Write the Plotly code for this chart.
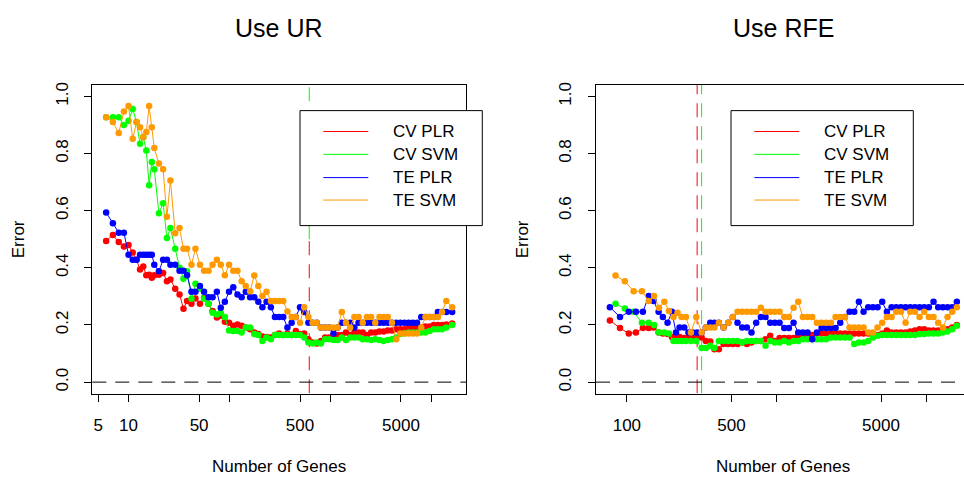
import plotly.graph_objects as go

# ---------------- data ----------------
genes_ur = [6, 7, 8, 9, 10, 11, 12, 13, 14, 15, 16, 17, 18, 20, 22, 24, 26, 29, 32, 35,
            38, 42, 46, 51, 56, 62, 68, 75, 82, 90, 99, 109, 120, 132, 145, 160, 176, 193, 212, 233,
            257, 282, 310, 341, 375, 413, 454, 500, 550, 605, 666, 732, 805, 886, 974, 1072, 1179, 1297, 1427, 1569,
            1726, 1899, 2089, 2298, 2528, 2780, 3058, 3364, 3700, 4070, 4477, 4925, 5418, 5960, 6556, 7211, 7932, 8726, 9599, 10559,
            11615, 12776, 14054, 16063]

ur_cv_plr = [0.494, 0.515, 0.49, 0.475, 0.48, 0.454, 0.428, 0.394, 0.405, 0.374,
             0.376, 0.365, 0.374, 0.376, 0.382, 0.353, 0.359, 0.327, 0.307, 0.257,
             0.284, 0.274, 0.293, 0.274, 0.295, 0.274, 0.249, 0.226, 0.232, 0.211,
             0.208, 0.197, 0.202, 0.197, 0.191, 0.185, 0.174, 0.168, 0.16, 0.158,
             0.156, 0.165, 0.17, 0.165, 0.17, 0.165, 0.179, 0.168, 0.17, 0.15,
             0.139, 0.135, 0.144, 0.156, 0.156, 0.165, 0.165, 0.165, 0.174, 0.165,
             0.174, 0.174, 0.174, 0.165, 0.174, 0.174, 0.177, 0.177, 0.181, 0.181,
             0.185, 0.185, 0.185, 0.191, 0.191, 0.191, 0.191, 0.195, 0.195, 0.2,
             0.2, 0.2, 0.202, 0.205]

ur_cv_svm = [0.927, 0.927, 0.927, 0.9, 0.915, 0.956, 0.91, 0.834, 0.857, 0.811,
             0.689, 0.77, 0.745, 0.591, 0.626, 0.504, 0.539, 0.467, 0.4, 0.362,
             0.388, 0.292, 0.344, 0.327, 0.292, 0.274, 0.243, 0.237, 0.243, 0.228,
             0.181, 0.179, 0.179, 0.174, 0.191, 0.191, 0.168, 0.165, 0.144, 0.156,
             0.15, 0.165, 0.165, 0.165, 0.165, 0.165, 0.165, 0.165, 0.156, 0.139,
             0.135, 0.139, 0.135, 0.15, 0.15, 0.147, 0.147, 0.156, 0.147, 0.156,
             0.156, 0.156, 0.15, 0.15, 0.147, 0.15, 0.147, 0.144, 0.147, 0.15,
             0.156, 0.168, 0.17, 0.174, 0.174, 0.174, 0.174, 0.174, 0.179, 0.185,
             0.185, 0.185, 0.191, 0.2]

ur_te_plr = [0.594, 0.556, 0.523, 0.523, 0.446, 0.428, 0.428, 0.446, 0.446, 0.446,
             0.446, 0.446, 0.411, 0.388, 0.428, 0.428, 0.411, 0.411, 0.39, 0.39,
             0.374, 0.316, 0.316, 0.336, 0.316, 0.297, 0.297, 0.316, 0.26, 0.281,
             0.316, 0.332, 0.307, 0.297, 0.316, 0.297, 0.297, 0.281, 0.262, 0.281,
             0.262, 0.228, 0.228, 0.228, 0.191, 0.208, 0.228, 0.262, 0.245, 0.208,
             0.208, 0.208, 0.191, 0.191, 0.191, 0.17, 0.191, 0.208, 0.208, 0.208,
             0.191, 0.208, 0.208, 0.208, 0.208, 0.208, 0.208, 0.208, 0.208, 0.208,
             0.208, 0.208, 0.208, 0.208, 0.208, 0.208, 0.228, 0.228, 0.228, 0.228,
             0.245, 0.245, 0.245, 0.245]

ur_te_svm = [0.927, 0.91, 0.872, 0.947, 0.966, 0.852, 0.91, 0.892, 0.857, 0.875,
             0.966, 0.892, 0.819, 0.765, 0.745, 0.579, 0.706, 0.521, 0.539, 0.467,
             0.467, 0.411, 0.467, 0.411, 0.39, 0.39, 0.411, 0.428, 0.411, 0.374,
             0.411, 0.39, 0.39, 0.353, 0.336, 0.318, 0.373, 0.336, 0.301, 0.316,
             0.284, 0.284, 0.284, 0.284, 0.247, 0.228, 0.228, 0.208, 0.262, 0.228,
             0.208, 0.208, 0.191, 0.191, 0.191, 0.191, 0.191, 0.245, 0.208, 0.191,
             0.228, 0.228, 0.208, 0.228, 0.228, 0.208, 0.228, 0.228, 0.228, 0.208,
             0.15, 0.17, 0.17, 0.17, 0.17, 0.17, 0.191, 0.228, 0.228, 0.228,
             0.228, 0.245, 0.284, 0.262]

genes_rfe_plr = [77, 90, 103, 115, 128, 140, 151, 163, 174, 187,
                 200, 213, 225, 242, 258, 276, 295, 316, 337, 361,
                 385, 412, 443, 476, 511, 549, 590, 634, 681, 732,
                 787, 845, 908, 976, 1049, 1127, 1211, 1301, 1398, 1502,
                 1614, 1734, 1863, 2002, 2151, 2311, 2483, 2668, 2867, 3080,
                 3310, 3556, 3821, 4106, 4411, 4740, 5093, 5472, 5880, 6318,
                 6788, 7294, 7837, 8421, 9045, 9716, 10440, 11218, 12054, 12951,
                 13916, 14953, 16063]

genes_rfe_svm = [84, 97, 111, 126, 140, 152, 164, 178, 191, 205,
                 218, 232, 248, 268, 291, 316, 337, 361, 385, 412,
                 443, 476, 511, 549, 590, 634, 681, 732, 787, 845,
                 908, 976, 1049, 1127, 1211, 1301, 1398, 1502, 1614, 1734,
                 1863, 2002, 2151, 2311, 2483, 2668, 2867, 3080, 3310, 3556,
                 3821, 4106, 4411, 4740, 5093, 5472, 5880, 6318, 6788, 7294,
                 7837, 8421, 9045, 9716, 10440, 11218, 12054, 12951, 13916, 14953,
                 16063]

rfe_cv_plr = [0.216, 0.189, 0.17, 0.174, 0.189, 0.189, 0.191, 0.174, 0.17, 0.168,
              0.158, 0.156, 0.158, 0.154, 0.156, 0.154, 0.156, 0.156, 0.144, 0.142,
              0.115, 0.115, 0.133, 0.133, 0.133, 0.133, 0.139, 0.133, 0.139, 0.144,
              0.144, 0.15, 0.162, 0.144, 0.154, 0.154, 0.154, 0.154, 0.162, 0.162,
              0.165, 0.165, 0.17, 0.17, 0.17, 0.17, 0.17, 0.17, 0.17, 0.17,
              0.17, 0.17, 0.17, 0.17, 0.165, 0.165, 0.17, 0.181, 0.174, 0.174,
              0.174, 0.174, 0.177, 0.181, 0.185, 0.185, 0.181, 0.181, 0.181, 0.185,
              0.185, 0.191, 0.2]

rfe_te_plr = [0.262, 0.228, 0.246, 0.246, 0.246, 0.301, 0.284, 0.246, 0.228, 0.208,
              0.246, 0.174, 0.191, 0.191, 0.174, 0.174, 0.174, 0.174, 0.191, 0.208,
              0.208, 0.208, 0.191, 0.208, 0.228, 0.208, 0.191, 0.191, 0.174, 0.208,
              0.228, 0.228, 0.208, 0.208, 0.208, 0.189, 0.189, 0.208, 0.174, 0.174,
              0.174, 0.15, 0.174, 0.189, 0.189, 0.189, 0.189, 0.208, 0.228, 0.246,
              0.246, 0.281, 0.246, 0.262, 0.262, 0.262, 0.281, 0.246, 0.262, 0.262,
              0.262, 0.262, 0.262, 0.262, 0.262, 0.262, 0.262, 0.281, 0.262, 0.262,
              0.262, 0.262, 0.281]

rfe_cv_svm = [0.274, 0.258, 0.246, 0.208, 0.208, 0.2, 0.174, 0.174, 0.17, 0.144,
              0.144, 0.144, 0.144, 0.144, 0.144, 0.119, 0.119, 0.127, 0.119, 0.144,
              0.144, 0.144, 0.144, 0.144, 0.139, 0.144, 0.144, 0.144, 0.144, 0.127,
              0.144, 0.139, 0.139, 0.144, 0.139, 0.144, 0.144, 0.15, 0.15, 0.15,
              0.15, 0.15, 0.15, 0.156, 0.156, 0.156, 0.156, 0.156, 0.133, 0.139,
              0.139, 0.144, 0.156, 0.162, 0.165, 0.165, 0.165, 0.165, 0.165, 0.165,
              0.165, 0.165, 0.168, 0.168, 0.17, 0.17, 0.17, 0.174, 0.177, 0.185,
              0.197]

rfe_te_svm = [0.373, 0.353, 0.318, 0.318, 0.284, 0.301, 0.26, 0.281, 0.249, 0.228,
              0.243, 0.228, 0.228, 0.174, 0.228, 0.174, 0.191, 0.191, 0.191, 0.208,
              0.191, 0.208, 0.228, 0.246, 0.246, 0.246, 0.246, 0.246, 0.26, 0.246,
              0.246, 0.246, 0.246, 0.228, 0.228, 0.26, 0.281, 0.228, 0.228, 0.228,
              0.208, 0.208, 0.208, 0.208, 0.228, 0.228, 0.228, 0.191, 0.191, 0.191,
              0.191, 0.174, 0.174, 0.191, 0.208, 0.228, 0.228, 0.246, 0.246, 0.208,
              0.246, 0.246, 0.228, 0.246, 0.228, 0.228, 0.208, 0.191, 0.228, 0.246,
              0.262]

best_ur_plr = 617
best_ur_svm = 617
best_rfe_plr = 295
best_rfe_svm = 316
# in the UR panel the two marker lines coincide: red is visible below this level, green above
ur_line_split = 0.5

series_names = ["CV PLR", "CV SVM", "TE PLR", "TE SVM"]
panel_titles = ["Use UR", "Use RFE"]
x_title = "Number of Genes"
y_title = "Error"
x_tickvals_ur = [5, 10, 50, 100, 500, 1000, 5000, 10000]
x_ticktext_ur = ["5", "10", "50", "", "500", "", "5000", ""]
x_tickvals_rfe = [100, 500, 1000, 5000, 10000]
x_ticktext_rfe = ["100", "500", "", "5000", ""]
y_tickvals = [0, 0.2, 0.4, 0.6, 0.8, 1.0]
y_ticktext = ["0.0", "0.2", "0.4", "0.6", "0.8", "1.0"]

# ---------------- styles ----------------
W, H = 964, 480
FONT = "Liberation Sans, Arial, Helvetica, sans-serif"
COLORS = ["#FF0000", "#00FF00", "#0000FF", "#FF9900"]
DASH = "14px,9px"


def px(x):
    return x / W


def py(y):
    return 1 - y / H


fig = go.Figure()

panels = [
    dict(xa="x", ya="y", genes=[genes_ur, genes_ur, genes_ur, genes_ur],
         ys=[ur_cv_plr, ur_cv_svm, ur_te_plr, ur_te_svm],
         best=[best_ur_plr, best_ur_svm], red_top=ur_line_split, green_bottom=ur_line_split),
    dict(xa="x2", ya="y2", genes=[genes_rfe_plr, genes_rfe_svm, genes_rfe_plr, genes_rfe_svm],
         ys=[rfe_cv_plr, rfe_cv_svm, rfe_te_plr, rfe_te_svm],
         best=[best_rfe_plr, best_rfe_svm], red_top=1.2, green_bottom=-0.2),
]

for p in panels:
    # vertical dashed lines at selected gene counts
    fig.add_trace(go.Scatter(x=[p["best"][1], p["best"][1]], y=[p["green_bottom"], 1.2], mode="lines",
                             line=dict(color=COLORS[1], width=1, dash=DASH),
                             xaxis=p["xa"], yaxis=p["ya"], showlegend=False, hoverinfo="skip"))
    fig.add_trace(go.Scatter(x=[p["best"][0], p["best"][0]], y=[-0.2, p["red_top"]], mode="lines",
                             line=dict(color=COLORS[0], width=1, dash=DASH),
                             xaxis=p["xa"], yaxis=p["ya"], showlegend=False, hoverinfo="skip"))
    for i in range(4):
        fig.add_trace(go.Scatter(x=p["genes"][i], y=p["ys"][i], mode="lines+markers",
                                 name=series_names[i],
                                 line=dict(color=COLORS[i], width=1),
                                 marker=dict(color=COLORS[i], size=6.5),
                                 xaxis=p["xa"], yaxis=p["ya"], showlegend=False))

ydom = [py(393), py(82.5)]
axis_common = dict(showline=True, linecolor="black", linewidth=1, ticks="outside",
                   ticklen=7, tickwidth=1, tickcolor="black", showgrid=False,
                   zeroline=False, tickfont=dict(family=FONT, size=17, color="black"))

fig.update_layout(
    width=W, height=H, margin=dict(l=0, r=0, t=0, b=0), autosize=False,
    paper_bgcolor="white", plot_bgcolor="white", showlegend=False,
    font=dict(family=FONT, color="black"),
    xaxis=dict(domain=[px(92.3), px(466)], type="log", range=[0.6411, 4.3429],
               tickvals=x_tickvals_ur, ticktext=x_ticktext_ur, anchor="y",
               mirror=True, ticklabelstandoff=9, **axis_common),
    yaxis=dict(domain=ydom, range=[-0.04, 1.04], tickvals=y_tickvals, ticktext=y_ticktext,
               tickangle=-90, anchor="x", mirror=True, ticklabelstandoff=10, **axis_common),
    xaxis2=dict(domain=[px(596), 1.0], type="log", range=[1.7937, 4.2536],
                tickvals=x_tickvals_rfe, ticktext=x_ticktext_rfe, anchor="y2",
                mirror=True, ticklabelstandoff=9, **axis_common),
    yaxis2=dict(domain=ydom, range=[-0.04, 1.04], tickvals=y_tickvals, ticktext=y_ticktext,
                tickangle=-90, anchor="x2", mirror=False, ticklabelstandoff=10, **axis_common),
)

shapes = []
annotations = []
# horizontal dashed reference line at zero
for xr, yr in [("x domain", "y"), ("x2 domain", "y2")]:
    shapes.append(dict(type="line", xref=xr, yref=yr, x0=0, x1=1, y0=0, y1=0,
                       line=dict(color="black", width=1, dash=DASH), layer="above"))

centers = [(92.3 + 466) / 2, (596 + 970.7) / 2]
yaxis_title_x = [18, 522]
legend_left = [300, 731]
row_y = [129.3, 152.3, 175.7, 198.3]
for k in range(2):
    annotations.append(dict(text=panel_titles[k], x=px(centers[k]), y=py(25), xref="paper",
                            yref="paper", showarrow=False, xanchor="center", yanchor="middle",
                            font=dict(family=FONT, size=25, color="black")))
    annotations.append(dict(text=x_title, x=px(centers[k]), y=py(466), xref="paper",
                            yref="paper", showarrow=False, xanchor="center", yanchor="middle",
                            font=dict(family=FONT, size=17, color="black")))
    annotations.append(dict(text=y_title, x=px(yaxis_title_x[k]), y=py(237.75), xref="paper",
                            yref="paper", showarrow=False, xanchor="center", yanchor="middle",
                            textangle=-90, font=dict(family=FONT, size=17, color="black")))
    L = legend_left[k]
    shapes.append(dict(type="rect", xref="paper", yref="paper", x0=px(L), x1=px(L + 182.3),
                       y0=py(224), y1=py(108.3), fillcolor="white",
                       line=dict(color="black", width=1), layer="above"))
    for i in range(4):
        shapes.append(dict(type="line", xref="paper", yref="paper", x0=px(L + 23.3),
                           x1=px(L + 68.3), y0=py(row_y[i]), y1=py(row_y[i]),
                           line=dict(color=COLORS[i], width=1), layer="above"))
        annotations.append(dict(text=series_names[i], x=px(L + 91), y=py(row_y[i]),
                                xref="paper", yref="paper", showarrow=False, xanchor="left",
                                yanchor="middle", font=dict(family=FONT, size=17, color="black")))

fig.update_layout(shapes=shapes, annotations=annotations)
fig.write_html("out.html")
